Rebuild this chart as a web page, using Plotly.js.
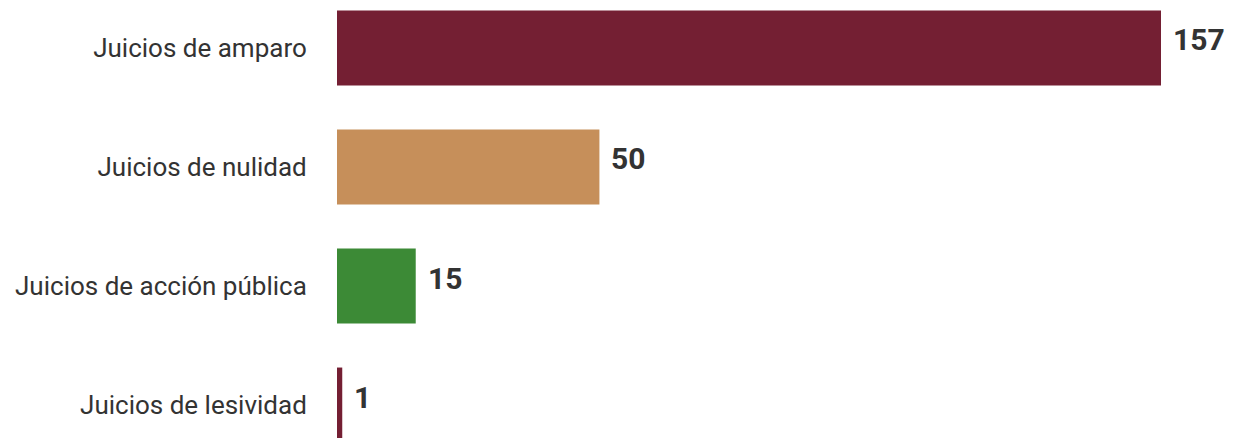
<!DOCTYPE html>
<html>
<head>
<meta charset="utf-8">
<script src="https://cdn.plot.ly/plotly-3.0.1.min.js"></script>
<style>html,body{margin:0;padding:0;background:#fff;}#chart{width:1235px;height:438px;}</style>
</head>
<body>
<div id="chart"></div>
<script>
const categories = ["Juicios de amparo", "Juicios de nulidad", "Juicios de acción pública", "Juicios de lesividad"];
const values = [157, 50, 15, 1];
const barColors = ["#741f33", "#c68f5a", "#3c8a36", "#741f33"];

const trace = {
  type: "bar",
  orientation: "h",
  y: categories,
  x: values,
  marker: {color: barColors, line: {width: 0}},
  width: 0.63,
  hoverinfo: "skip"
};

const annotations = categories.map((c, i) => ({
  x: values[i], y: c, xref: "x", yref: "y",
  text: String(values[i]),
  showarrow: false, xanchor: "left", yanchor: "middle",
  xshift: 10, yshift: 8,
  font: {family: "Roboto", size: 30, color: "#333333", weight: "bold"}
}));

const layout = {
  width: 1235, height: 438,
  margin: {l: 337, r: 0, t: 0, b: 0},
  paper_bgcolor: "#ffffff", plot_bgcolor: "#ffffff",
  showlegend: false,
  xaxis: {range: [0, 171.1], visible: false, fixedrange: true},
  yaxis: {
    type: "category",
    range: [3.277, -0.403],
    showgrid: false, zeroline: false, showline: false,
    ticks: "outside", ticklen: 24, tickcolor: "rgba(0,0,0,0)",
    tickfont: {family: "Roboto", size: 26, color: "#333333"}
  },
  annotations: annotations
};

Plotly.newPlot("chart", [trace], layout, {displayModeBar: false, staticPlot: true});
</script>
</body>
</html>
